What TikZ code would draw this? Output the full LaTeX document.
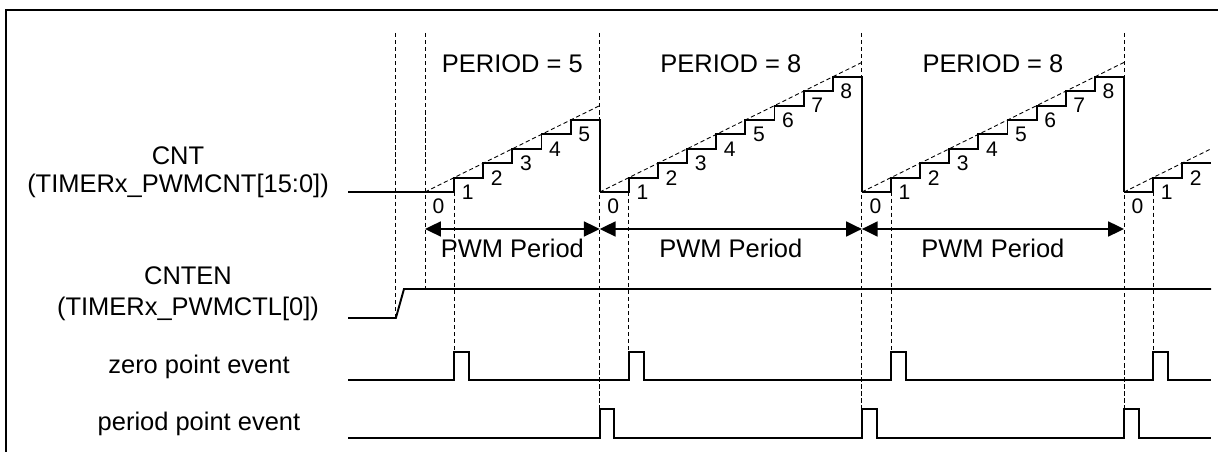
\documentclass[tikz,border=0pt]{standalone}
\usepackage{fontspec}
\setmainfont{Liberation Sans}
\usetikzlibrary{arrows.meta, positioning, calc}
\tikzset{sig/.style={line width=1.1pt},
    guide/.style={line width=0.5pt, dash pattern=on 2.4pt off 1.6pt},
    lbl/.style={font=\fontsize{14.5}{16}\selectfont, inner sep=0pt, anchor=base},
    cntlbl/.style={font=\fontsize{12}{14}\selectfont, inner sep=0pt},
    span/.style={line width=1.1pt, {Triangle[length=9pt,width=8.5pt]}-{Triangle[length=9pt,width=8.5pt]}}}

\begin{document}
\begin{tikzpicture}[x=0.02cm, y=-0.02cm]
\useasboundingbox (0,0) rectangle (1218,452);
\def\tk{29.125}
\def\st{14.4}
\draw[line width=1.4pt] (6,470) -- (6,10) -- (1240,10);
% signal names
\node[lbl] (cnt) at (178,165) {CNT};
\node[lbl] (cntreg) at (178,193) {(TIMERx\_PWMCNT[15:0])};
\node[lbl] (cnten) at (188,285) {CNTEN};
\node[lbl] (cntenreg) at (188,316) {(TIMERx\_PWMCTL[0])};
\node[lbl] (zero) at (199,374) {zero point event};
\node[lbl] (period) at (199,431) {period point event};
% guides
\draw[guide] ({425-\tk},33) -- ({425-\tk},318);
\draw[guide] (425,33) -- (425,289);
\foreach \k in {6,15,24}
    \draw[guide] ({425+\k*\tk},33) -- ({425+\k*\tk},409);
\foreach \k in {1,7,16,25}
    \draw[guide] ({425+\k*\tk},{192-\st}) -- ({425+\k*\tk},352);
% CNT
\draw[sig] (348,192) -- (425,192);
\foreach \k/\n in {0/5, 6/8, 15/8}{
    \draw[sig] ({425+\k*\tk},192) \foreach \i in {1,...,\n}{ -| ({425+(\k+\i)*\tk},{192-\i*\st}) }
        -| ({425+(\k+\n+1)*\tk},192);
    \draw[guide] ({425+\k*\tk},192) -- ({425+(\k+\n+1)*\tk},{192-(\n+1)*\st});
    \foreach \i in {0,...,\n}
        \node[cntlbl] (c\k-\i) at ({425+(\k+\i)*\tk+13.5},{192-\i*\st+14.5}) {\i};
}
\draw[sig] ({425+24*\tk},192) -| ({425+25*\tk},{192-\st}) -| ({425+26*\tk},{192-2*\st}) -- (1211,{192-2*\st});
\draw[guide] ({425+24*\tk},192) -- (1211,{192-3*\st});
\foreach \i in {0,1,2}
    \node[cntlbl] (c24-\i) at ({425+(24+\i)*\tk+13.5},{192-\i*\st+14.5}) {\i};
% periods
\coordinate (p0) at (425,229);
\coordinate (p1) at ({425+6*\tk},229);
\coordinate (p2) at ({425+15*\tk},229);
\coordinate (p3) at ({425+24*\tk},229);
\draw[span] (p0) -- (p1);
\draw[span] (p1) -- (p2);
\draw[span] (p2) -- (p3);
\node[lbl] (pwm1) at ($(p0)!0.5!(p1)+(0,29)$) {PWM Period};
\node[lbl] (pwm2) at ($(p1)!0.5!(p2)+(0,29)$) {PWM Period};
\node[lbl] (pwm3) at ($(p2)!0.5!(p3)+(0,29)$) {PWM Period};
\node[lbl] (per1) at ($(p0)!0.5!(p1)+(0,-156)$) {PERIOD = 5};
\node[lbl] (per2) at ($(p1)!0.5!(p2)+(0,-156)$) {PERIOD = 8};
\node[lbl] (per3) at ($(p2)!0.5!(p3)+(0,-156)$) {PERIOD = 8};
% CNTEN
\draw[sig] (348,318) -- ({425-\tk},318) -- (404,289) -- (1211,289);
% events
\draw[sig] (348,380) \foreach \k in {1,7,16,25}{ -- ({425+\k*\tk},380) -- ++(0,-28) -- ++(14.7,0) -- ++(0,28) } -- (1211,380);
\draw[sig] (348,438) \foreach \k in {6,15,24}{ -- ({425+\k*\tk},438) -- ++(0,-29) -- ++(14.7,0) -- ++(0,29) } -- (1211,438);
\end{tikzpicture}
\end{document}
